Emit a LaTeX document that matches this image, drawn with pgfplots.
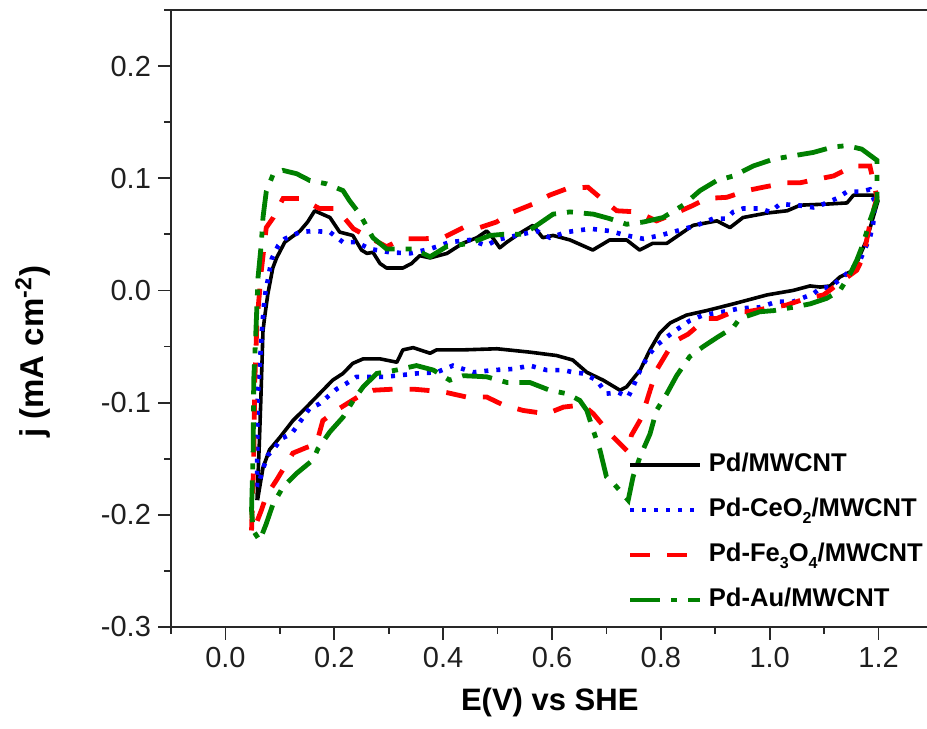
\documentclass[border=0pt]{standalone}
\usepackage{pgfplots}
\pgfplotsset{compat=1.18}
\usepackage{fontspec}
\setmainfont{Liberation Sans}

\definecolor{cvblack}{RGB}{0,0,0}
\definecolor{cvblue}{RGB}{0,0,255}
\definecolor{cvred}{RGB}{255,0,0}
\definecolor{cvgreen}{RGB}{0,128,0}
\definecolor{axgray}{RGB}{40,40,40}

\newcommand{\sub}[1]{\raisebox{-0.45ex}{\fontsize{8}{9}\selectfont #1}}

\begin{document}
\begin{tikzpicture}
\begin{axis}[
  scale only axis,
  width=378pt, height=308.5pt,
  xmin=-0.1, xmax=1.289,
  ymin=-0.3, ymax=0.25,
  axis lines=left,
  axis line style={-, line width=0.9pt, color=axgray},
  clip mode=individual,
  tick align=outside,
  major tick length=6.5pt,
  minor tick length=3.5pt,
  tick style={line width=0.9pt, color=axgray},
  xtick={0,0.2,0.4,0.6,0.8,1.0,1.2},
  xticklabels={0.0,0.2,0.4,0.6,0.8,1.0,1.2},
  minor xtick={-0.1,0.1,0.3,0.5,0.7,0.9,1.1},
  ytick={-0.3,-0.2,-0.1,0,0.1,0.2},
  yticklabels={-0.3,-0.2,-0.1,0.0,0.1,0.2},
  minor ytick={-0.25,-0.15,-0.05,0.05,0.15,0.25},
  ticklabel style={font=\fontsize{14.5}{16}\selectfont, color=black!88},
  xlabel={E(V) vs SHE},
  ylabel={j (mA cm\textsuperscript{-2})},
  xlabel style={font=\bfseries\fontsize{15.5}{18}\selectfont, at={(axis description cs:0.501,-0.122)}, anchor=center},
  ylabel style={font=\bfseries\fontsize{16.5}{18}\selectfont, at={(axis description cs:-0.1825,0.446)}, anchor=center, rotate=0},
  legend cell align=left,
  legend image code/.code={\draw[#1] (0pt,0pt) -- (35pt,0pt);},
  legend style={draw=none, fill=none, inner sep=0pt, outer sep=0pt,
    row sep=10.5pt, column sep=3pt,
    nodes={inner sep=0pt, text height=9.5pt, text depth=2.5pt, font=\bfseries\fontsize{12.8}{15}\selectfont},
    at={(axis description cs:0.6045,0.282)}, anchor=north west},
]

% Pd/MWCNT
\addplot[cvblack, line width=1.8pt, line join=round] coordinates {
(0.058,-0.187) (0.062,-0.140) (0.065,-0.098) (0.069,-0.036) (0.072,-0.024) (0.078,-0.003) (0.087,0.020) (0.094,0.029) (0.109,0.043) (0.137,0.053) (0.151,0.061) (0.164,0.071) (0.192,0.065) (0.210,0.052) (0.234,0.049) (0.250,0.036) (0.260,0.033) (0.271,0.034) (0.284,0.024) (0.296,0.020) (0.326,0.020) (0.342,0.024) (0.357,0.031) (0.376,0.029) (0.407,0.033) (0.436,0.042) (0.462,0.047) (0.480,0.053) (0.491,0.047) (0.504,0.038) (0.517,0.043) (0.541,0.051) (0.565,0.058) (0.583,0.047) (0.602,0.049) (0.633,0.045) (0.675,0.036) (0.706,0.045) (0.737,0.045) (0.761,0.036) (0.785,0.042) (0.811,0.042) (0.859,0.058) (0.903,0.062) (0.927,0.056) (0.951,0.065) (0.995,0.069) (1.032,0.071) (1.056,0.076) (1.106,0.077) (1.142,0.078) (1.154,0.085) (1.190,0.085) (1.199,0.080)
(1.178,0.045) (1.154,0.018) (1.129,0.012) (1.111,0.004) (1.093,0.003) (1.074,0.004) (1.043,0.000) (0.995,-0.004) (0.933,-0.012) (0.884,-0.018) (0.847,-0.022) (0.817,-0.029) (0.798,-0.038) (0.780,-0.053) (0.762,-0.071) (0.737,-0.086) (0.725,-0.089) (0.694,-0.080) (0.664,-0.073) (0.638,-0.062) (0.608,-0.058) (0.559,-0.055) (0.499,-0.052) (0.436,-0.053) (0.388,-0.053) (0.376,-0.056) (0.345,-0.051) (0.326,-0.053) (0.315,-0.064) (0.284,-0.061) (0.253,-0.061) (0.234,-0.065) (0.216,-0.074) (0.197,-0.080) (0.173,-0.092) (0.149,-0.104) (0.124,-0.116) (0.100,-0.131) (0.081,-0.142) (0.069,-0.158) (0.059,-0.187)
};
\addlegendentry{Pd/MWCNT}

% Pd-CeO2/MWCNT
\addplot[cvblue, line width=2.3pt, dash pattern=on 2pt off 4pt] coordinates {
(0.058,-0.175) (0.059,-0.098) (0.067,-0.036) (0.072,-0.006) (0.085,0.028) (0.097,0.040) (0.109,0.046) (0.137,0.052) (0.161,0.053) (0.192,0.052) (0.216,0.043) (0.241,0.043) (0.265,0.037) (0.302,0.034) (0.339,0.033) (0.376,0.037) (0.412,0.043) (0.449,0.045) (0.480,0.040) (0.498,0.045) (0.535,0.049) (0.572,0.053) (0.596,0.047) (0.627,0.052) (0.670,0.055) (0.706,0.053) (0.737,0.049) (0.768,0.046) (0.798,0.049) (0.829,0.053) (0.866,0.058) (0.896,0.064) (0.921,0.064) (0.933,0.070) (0.951,0.073) (0.982,0.073) (1.001,0.070) (1.019,0.077) (1.050,0.076) (1.080,0.074) (1.099,0.077) (1.123,0.082) (1.142,0.088) (1.166,0.088) (1.184,0.090) (1.193,0.079)
(1.190,0.059) (1.184,0.047) (1.166,0.027) (1.148,0.018) (1.135,0.012) (1.111,0.003) (1.093,0.002) (1.080,-0.003) (1.043,-0.010) (1.013,-0.010) (0.982,-0.015) (0.945,-0.016) (0.915,-0.019) (0.878,-0.022) (0.853,-0.027) (0.823,-0.037) (0.792,-0.049) (0.777,-0.058) (0.762,-0.071) (0.749,-0.086) (0.740,-0.095) (0.722,-0.091) (0.700,-0.092) (0.682,-0.080) (0.657,-0.074) (0.639,-0.073) (0.621,-0.071) (0.590,-0.071) (0.559,-0.067) (0.529,-0.070) (0.492,-0.071) (0.455,-0.073) (0.418,-0.067) (0.388,-0.073) (0.351,-0.074) (0.314,-0.076) (0.290,-0.077) (0.259,-0.077) (0.241,-0.077) (0.222,-0.083) (0.204,-0.088) (0.192,-0.093) (0.173,-0.101) (0.155,-0.105) (0.146,-0.111) (0.133,-0.120) (0.121,-0.128) (0.103,-0.132) (0.091,-0.140) (0.078,-0.147) (0.069,-0.159) (0.063,-0.169) (0.058,-0.175)
};
\addlegendentry{Pd-CeO\sub{2}/MWCNT}

% Pd-Fe3O4/MWCNT
\addplot[cvred, line width=2.4pt, dash pattern=on 10pt off 8.5pt] coordinates {
(0.048,-0.214) (0.052,-0.151) (0.054,-0.080) (0.058,-0.027) (0.063,0.000) (0.066,0.018) (0.075,0.056) (0.088,0.065) (0.097,0.074) (0.106,0.082) (0.137,0.082) (0.173,0.073) (0.204,0.073) (0.235,0.055) (0.265,0.047) (0.296,0.039) (0.326,0.046) (0.363,0.046) (0.400,0.047) (0.437,0.056) (0.467,0.056) (0.498,0.061) (0.529,0.070) (0.565,0.077) (0.596,0.085) (0.629,0.091) (0.666,0.092) (0.688,0.083) (0.719,0.071) (0.756,0.070) (0.792,0.062) (0.823,0.068) (0.860,0.076) (0.884,0.082) (0.921,0.083) (0.958,0.089) (0.988,0.092) (1.031,0.096) (1.056,0.096) (1.086,0.099) (1.117,0.102) (1.154,0.111) (1.184,0.111) (1.197,0.083)
(1.184,0.059) (1.172,0.030) (1.160,0.018) (1.129,0.007) (1.099,-0.004) (1.068,-0.007) (1.031,-0.013) (0.994,-0.016) (0.958,-0.019) (0.933,-0.019) (0.903,-0.025) (0.884,-0.025) (0.850,-0.039) (0.823,-0.046) (0.792,-0.071) (0.777,-0.094) (0.765,-0.113) (0.746,-0.129) (0.740,-0.144) (0.707,-0.128) (0.676,-0.110) (0.657,-0.102) (0.621,-0.104) (0.590,-0.110) (0.547,-0.107) (0.510,-0.102) (0.480,-0.095) (0.443,-0.095) (0.406,-0.091) (0.369,-0.089) (0.345,-0.088) (0.308,-0.088) (0.271,-0.089) (0.253,-0.092) (0.210,-0.105) (0.179,-0.116) (0.167,-0.137) (0.149,-0.140) (0.124,-0.145) (0.109,-0.157) (0.094,-0.169) (0.075,-0.183) (0.066,-0.196) (0.054,-0.211) (0.048,-0.214)
};
\addlegendentry{Pd-Fe\sub{3}O\sub{4}/MWCNT}

% Pd-Au/MWCNT
\addplot[cvgreen, line width=2.4pt, dash pattern=on 15pt off 5.5pt on 3pt off 5.5pt] coordinates {
(0.048,-0.196) (0.051,-0.142) (0.052,-0.080) (0.056,-0.036) (0.060,0.012) (0.066,0.042) (0.069,0.065) (0.075,0.088) (0.088,0.104) (0.106,0.107) (0.131,0.104) (0.155,0.098) (0.186,0.095) (0.216,0.089) (0.228,0.080) (0.247,0.068) (0.265,0.052) (0.271,0.047) (0.296,0.037) (0.345,0.037) (0.376,0.030) (0.406,0.039) (0.449,0.042) (0.486,0.049) (0.510,0.050) (0.547,0.050) (0.572,0.058) (0.602,0.068) (0.633,0.070) (0.676,0.068) (0.706,0.064) (0.737,0.059) (0.768,0.061) (0.804,0.065) (0.841,0.076) (0.872,0.089) (0.903,0.098) (0.933,0.102) (0.970,0.111) (1.007,0.117) (1.043,0.120) (1.080,0.123) (1.117,0.128) (1.142,0.129) (1.169,0.126) (1.197,0.116)
(1.197,0.080) (1.184,0.062) (1.172,0.042) (1.160,0.027) (1.148,0.015) (1.129,0.000) (1.105,-0.007) (1.074,-0.012) (1.043,-0.015) (1.007,-0.018) (0.982,-0.019) (0.945,-0.025) (0.933,-0.033) (0.903,-0.042) (0.878,-0.050) (0.853,-0.059) (0.829,-0.076) (0.811,-0.092) (0.792,-0.107) (0.780,-0.128) (0.762,-0.148) (0.749,-0.166) (0.743,-0.180) (0.740,-0.187) (0.713,-0.172) (0.700,-0.166) (0.688,-0.142) (0.676,-0.125) (0.664,-0.107) (0.651,-0.098) (0.627,-0.092) (0.596,-0.089) (0.559,-0.082) (0.517,-0.082) (0.480,-0.077) (0.437,-0.076) (0.412,-0.080) (0.382,-0.071) (0.351,-0.067) (0.314,-0.071) (0.278,-0.074) (0.253,-0.086) (0.235,-0.098) (0.216,-0.113) (0.192,-0.126) (0.170,-0.141) (0.161,-0.151) (0.131,-0.163) (0.106,-0.175) (0.087,-0.191) (0.075,-0.208) (0.063,-0.223) (0.051,-0.214) (0.048,-0.196)
};
\addlegendentry{Pd-Au/MWCNT}

% frame line along the top of the plot area
\draw[line width=0.9pt, axgray] (axis description cs:0,1) -- (axis description cs:1,1);

% page extent
\coordinate (pageSW) at (axis description cs:-0.2262,-0.1653);
\coordinate (pageNE) at (axis description cs:1,1.0162);
\end{axis}
\pgfresetboundingbox
\path (pageSW) rectangle (pageNE);
\end{tikzpicture}
\end{document}
